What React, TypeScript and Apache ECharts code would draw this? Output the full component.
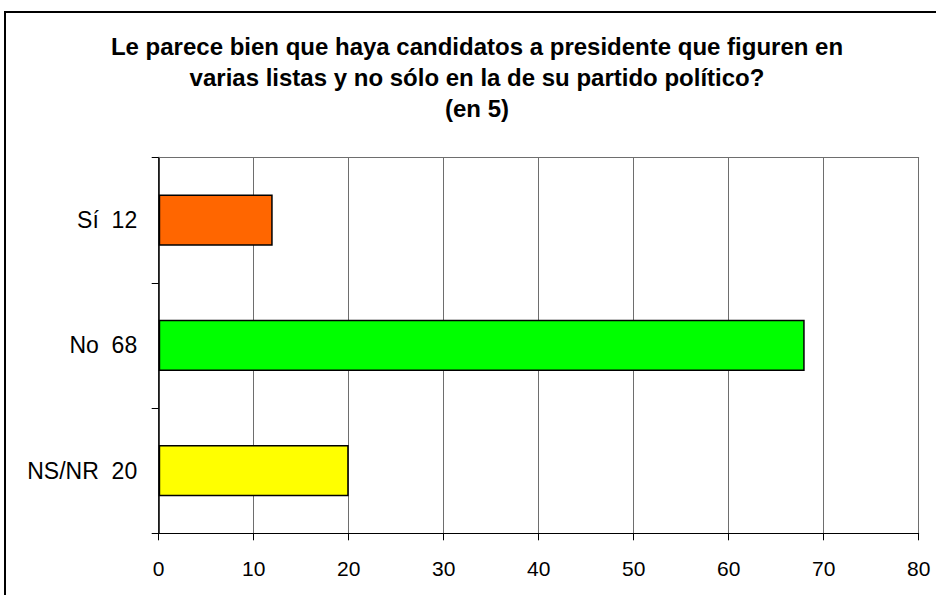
import React, { useEffect, useRef } from "react";
import * as echarts from "echarts";

const titleLines = [
  "Le parece bien que haya candidatos a presidente que figuren en",
  "varias listas y no sólo en la de su partido político?",
  "(en 5)",
];
const categories = ["Sí", "No", "NS/NR"];
const values = [12, 68, 20];
const barColors = ["#FF6600", "#00FF00", "#FFFF00"];
const xMin = 0;
const xMax = 80;
const xInterval = 10;

export default function App() {
  const ref = useRef<HTMLDivElement>(null);
  useEffect(() => {
    if (!ref.current) return;
    const chart = echarts.init(ref.current, null, { renderer: "svg" });
    const font = "'Liberation Sans', Arial, sans-serif";
    chart.setOption({
      animation: false,
      backgroundColor: "#ffffff",
      graphic: [
        {
          type: "rect",
          shape: { x: 5, y: 12, width: 1000, height: 1000 },
          style: { fill: "none", stroke: "#000", lineWidth: 2 },
          silent: true,
        },
        {
          type: "text",
          x: 477,
          y: 31,
          silent: true,
          style: {
            text: titleLines.join("\n"),
            fill: "#000",
            font: `bold 24px ${font}`,
            fontSize: 24,
            fontWeight: "bold",
            fontFamily: font,
            lineHeight: 31,
            align: "center",
            verticalAlign: "top",
          },
        },
      ],
      grid: { left: 158.7, right: 17.3, top: 157.5, bottom: 61.7, containLabel: false },
      xAxis: [
        {
          type: "value",
          position: "bottom",
          min: xMin,
          max: xMax,
          interval: xInterval,
          axisLine: { show: true, lineStyle: { color: "#000", width: 1 } },
          axisTick: { show: true, length: 7, lineStyle: { color: "#000" } },
          axisLabel: { fontFamily: font, fontSize: 21, color: "#000", margin: 25 },
          splitLine: { show: true, lineStyle: { color: "#6e6e6e", width: 1 } },
        },
        {
          type: "value",
          position: "top",
          min: xMin,
          max: xMax,
          interval: xInterval,
          axisLine: { show: true, lineStyle: { color: "#6e6e6e", width: 1 } },
          axisTick: { show: false },
          axisLabel: { show: false },
          splitLine: { show: false },
        },
      ],
      yAxis: {
        type: "category",
        data: categories,
        inverse: true,
        axisLine: { show: true, lineStyle: { color: "#000", width: 1.5 } },
        axisTick: { show: true, length: 7, alignWithLabel: false, lineStyle: { color: "#000" } },
        axisLabel: {
          fontFamily: font,
          fontSize: 23,
          color: "#000",
          margin: 21.5,
          formatter: (v: string, i: number) => `${v}  ${values[i]}`,
        },
        splitLine: { show: false },
      },
      series: [
        {
          type: "bar",
          xAxisIndex: 0,
          data: values.map((v, i) => ({ value: v, itemStyle: { color: barColors[i] } })),
          barCategoryGap: "59%",
          itemStyle: { borderColor: "#000", borderWidth: 1.5 },
        },
      ],
    });
    return () => chart.dispose();
  }, []);
  return (
    <div
      ref={ref}
      style={{ position: "fixed", left: 0, top: 0, width: 936, height: 595 }}
    />
  );
}
